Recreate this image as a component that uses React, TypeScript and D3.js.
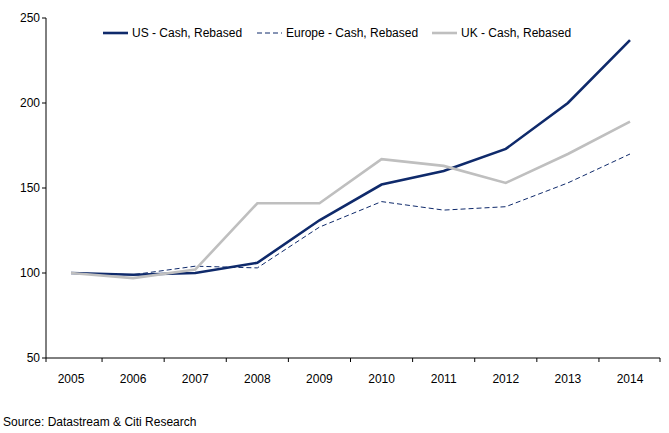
import React from "react";
import * as d3 from "d3";

const years = ["2005","2006","2007","2008","2009","2010","2011","2012","2013","2014"];
const us = [100, 99, 100, 106, 131, 152, 160, 173, 200, 237];
const europe = [100, 99, 104, 103, 127, 142, 137, 139, 153, 170];
const uk = [100, 97, 102, 141, 141, 167, 163, 153, 170, 189];
const yTicks = [50, 100, 150, 200, 250];

const W = 669, H = 433;
const left = 46, right = 660, top = 18, bottom = 358;

export default function App() {
  const x = d3.scalePoint().domain(years).range([71, 630]);
  const step = x.step();
  const y = d3.scaleLinear().domain([50, 250]).range([bottom, top]);
  const line = d3.line<number>()
    .x((_, i) => x(years[i]) ?? 0)
    .y((d) => y(d));
  const font = "Arial, 'Liberation Sans', sans-serif";
  const series = [
    { name: "US - Cash, Rebased", data: us, color: "#0f2a6b", w: 2.6, dash: "", lx: 103 },
    { name: "Europe - Cash, Rebased", data: europe, color: "#0f2a6b", w: 1, dash: "5,3", lx: 257 },
    { name: "UK - Cash, Rebased", data: uk, color: "#bfbfbf", w: 2.6, dash: "", lx: 432 },
  ];
  return (
    <svg width={W} height={H} style={{ position: "absolute", left: 0, top: 0, background: "#fff" }} fontFamily={font}>
      <line x1={left} x2={left} y1={top} y2={bottom} stroke="#000" />
      <line x1={left} x2={right} y1={bottom} y2={bottom} stroke="#000" />
      {yTicks.map((t) => (
        <g key={t}>
          <line x1={left - 4} x2={left} y1={y(t)} y2={y(t)} stroke="#000" />
          <text x={left - 6} y={y(t) + 4} fontSize={12} textAnchor="end">{t}</text>
        </g>
      ))}
      {years.map((yr, i) => (
        <g key={yr}>
          {i < years.length - 1 && (
            <line x1={(x(yr) ?? 0) + step / 2} x2={(x(yr) ?? 0) + step / 2} y1={bottom} y2={bottom + 4} stroke="#000" />
          )}
          <text x={x(yr) ?? 0} y={bottom + 25} fontSize={12} textAnchor="middle">{yr}</text>
        </g>
      ))}
      <line x1={left} x2={left} y1={bottom} y2={bottom + 4} stroke="#000" />
      <line x1={right} x2={right} y1={bottom} y2={bottom + 4} stroke="#000" />
      {series.map((s) => (
        <path key={s.name} d={line(s.data) ?? ""} fill="none" stroke={s.color} strokeWidth={s.w} strokeDasharray={s.dash} />
      ))}
      {series.map((s) => (
        <g key={s.name + "l"}>
          <line x1={s.lx} x2={s.lx + 25} y1={33} y2={33} stroke={s.color} strokeWidth={s.w} strokeDasharray={s.dash} />
          <text x={s.lx + 29} y={37} fontSize={12}>{s.name}</text>
        </g>
      ))}
      <text x={3} y={426} fontSize={12}>Source: Datastream &amp; Citi Research</text>
    </svg>
  );
}
